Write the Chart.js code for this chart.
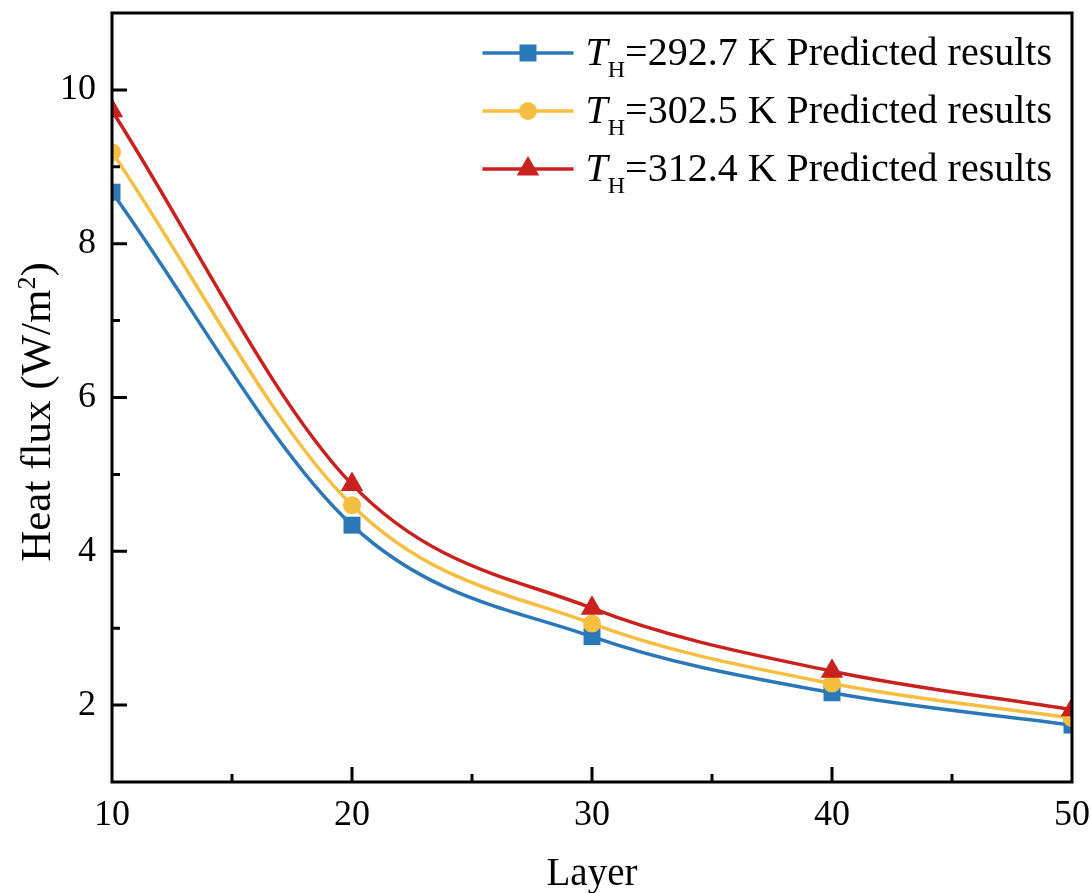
<!DOCTYPE html>
<html lang="en">
<head>
<meta charset="UTF-8">
<title>Heat flux vs layer</title>
<script src="https://cdn.jsdelivr.net/npm/chart.js"></script>
<style>
  body { margin: 0; background: #fff; }
  #wrap { width: 1091px; height: 893px; }
</style>
</head>
<body>
<div id="wrap"><canvas id="fluxChart" width="1091" height="893"></canvas></div>
<script>
// layer count on x, heat flux (W/m2) per hot-side temperature
const layers = [10, 20, 30, 40, 50];
const flux2927 = [8.67, 4.34, 2.89, 2.16, 1.74];
const flux3025 = [9.19, 4.60, 3.06, 2.28, 1.83];
const flux3124 = [9.73, 4.87, 3.26, 2.44, 1.94];
const seriesTemps = ['292.7', '302.5', '312.4'];
const xTickLabels = [10, 20, 30, 40, 50];
const yTickLabels = [2, 4, 6, 8, 10];

const serif = '"Liberation Serif", "Times New Roman", serif';
const colors = ['#2b78b8', '#f5be41', '#c9211e'];
const markers = ['rect', 'circle', 'triangle'];
const radii = [12, 9, 13];

function toPoints(ys) {
  return layers.map((x, i) => ({ x: x, y: ys[i] }));
}

function drawMarker(ctx, style, x, y, r) {
  ctx.beginPath();
  if (style === 'rect') {
    const s = r * Math.SQRT1_2;
    ctx.rect(x - s, y - s, 2 * s, 2 * s);
  } else if (style === 'circle') {
    ctx.arc(x, y, r, 0, Math.PI * 2);
  } else {
    const a = 2 * Math.PI / 3;
    ctx.moveTo(x, y - r);
    ctx.lineTo(x + r * Math.sin(a), y - r * Math.cos(a));
    ctx.lineTo(x - r * Math.sin(a), y - r * Math.cos(a));
    ctx.closePath();
  }
  ctx.fill();
}

// closed frame plus inward tick marks
const framePlugin = {
  id: 'frame',
  afterDraw(chart) {
    const { ctx, chartArea: a, scales: { x, y } } = chart;
    ctx.save();
    ctx.strokeStyle = '#000';
    ctx.lineWidth = 3;
    ctx.strokeRect(a.left, a.top, a.right - a.left, a.bottom - a.top);
    ctx.beginPath();
    x.ticks.forEach(t => {
      if (t.value <= x.min || t.value >= x.max) return;
      const px = x.getPixelForValue(t.value);
      const len = xTickLabels.includes(t.value) ? 15 : 8;
      ctx.moveTo(px, a.bottom);
      ctx.lineTo(px, a.bottom - len);
    });
    y.ticks.forEach(t => {
      if (t.value <= y.min || t.value >= y.max) return;
      const py = y.getPixelForValue(t.value);
      const len = yTickLabels.includes(t.value) ? 15 : 8;
      ctx.moveTo(a.left, py);
      ctx.lineTo(a.left + len, py);
    });
    ctx.stroke();
    ctx.restore();
  }
};

// axis titles (y title has a superscript 2)
const titlePlugin = {
  id: 'axisTitles',
  afterDraw(chart) {
    const { ctx, chartArea: a } = chart;
    ctx.save();
    ctx.fillStyle = '#000';
    ctx.textAlign = 'center';
    ctx.textBaseline = 'alphabetic';
    ctx.font = '39px ' + serif;
    ctx.fillText('Layer', (a.left + a.right) / 2, 885);

    ctx.translate(50, 412);
    ctx.rotate(-Math.PI / 2);
    const main = 'Heat flux (W/m';
    ctx.font = '43px ' + serif;
    const w1 = ctx.measureText(main).width;
    const w3 = ctx.measureText(')').width;
    ctx.font = '26px ' + serif;
    const w2 = ctx.measureText('2').width;
    const x0 = -(w1 + w2 + w3) / 2;
    ctx.textAlign = 'left';
    ctx.font = '43px ' + serif;
    ctx.fillText(main, x0, 0);
    ctx.font = '26px ' + serif;
    ctx.fillText('2', x0 + w1, -15);
    ctx.font = '43px ' + serif;
    ctx.fillText(')', x0 + w1 + w2, 0);
    ctx.restore();
  }
};

// legend in the upper right corner of the plot
const legendPlugin = {
  id: 'insetLegend',
  afterDraw(chart) {
    const { ctx, chartArea: a } = chart;
    ctx.save();
    seriesTemps.forEach((temp, i) => {
      const cy = a.top + 40 + i * 58;
      const rest = '=' + temp + ' K Predicted results';
      ctx.font = '40px ' + serif;
      const wRest = ctx.measureText(rest).width;
      ctx.font = 'italic 40px ' + serif;
      const wT = ctx.measureText('T').width;
      ctx.font = '24px ' + serif;
      const wH = ctx.measureText('H').width;
      const textX = a.right - 20 - wRest - wH - wT;
      const lineX0 = textX - 103;
      const lineX1 = textX - 12;

      ctx.strokeStyle = colors[i];
      ctx.fillStyle = colors[i];
      ctx.lineWidth = 3.5;
      ctx.beginPath();
      ctx.moveTo(lineX0, cy);
      ctx.lineTo(lineX1, cy);
      ctx.stroke();
      drawMarker(ctx, markers[i], (lineX0 + lineX1) / 2, cy, radii[i]);

      ctx.fillStyle = '#000';
      ctx.textAlign = 'left';
      ctx.textBaseline = 'alphabetic';
      const base = cy + 12;
      ctx.font = 'italic 40px ' + serif;
      ctx.fillText('T', textX, base);
      ctx.font = '24px ' + serif;
      ctx.fillText('H', textX + wT, base + 12);
      ctx.font = '40px ' + serif;
      ctx.fillText(rest, textX + wT + wH, base);
    });
    ctx.restore();
  }
};

const datasets = [flux2927, flux3025, flux3124].map((ys, i) => ({
  label: 'T_H=' + seriesTemps[i] + ' K Predicted results',
  data: toPoints(ys),
  borderColor: colors[i],
  backgroundColor: colors[i],
  borderWidth: 3.5,
  pointStyle: markers[i],
  pointRadius: radii[i],
  pointBorderWidth: 0,
  pointHoverRadius: radii[i],
  cubicInterpolationMode: 'monotone',
  order: 2 - i
}));

new Chart(document.getElementById('fluxChart'), {
  type: 'line',
  data: { datasets: datasets },
  options: {
    responsive: false,
    animation: false,
    devicePixelRatio: 1,
    layout: { padding: { left: 0, top: 8, right: 19, bottom: 0 } },
    plugins: {
      legend: { display: false },
      tooltip: { enabled: false }
    },
    scales: {
      x: {
        type: 'linear',
        min: 10,
        max: 50,
        grid: { display: false, drawTicks: false },
        border: { display: false },
        ticks: {
          stepSize: 5,
          padding: 12,
          color: '#000',
          font: { family: serif, size: 36 },
          maxRotation: 0,
          autoSkip: false,
          callback: v => (xTickLabels.includes(v) ? v : '')
        },
        afterFit: s => {
          s.height = 111;
          s.paddingLeft = 0;
          s.paddingRight = 0;
        }
      },
      y: {
        min: 1,
        max: 11,
        grid: { display: false, drawTicks: false },
        border: { display: false },
        ticks: {
          stepSize: 1,
          padding: 16,
          color: '#000',
          font: { family: serif, size: 36 },
          autoSkip: false,
          callback: v => (yTickLabels.includes(v) ? v : '')
        },
        afterFit: s => {
          s.width = 112;
          s.paddingTop = 0;
          s.paddingBottom = 0;
        }
      }
    }
  },
  plugins: [framePlugin, titlePlugin, legendPlugin]
});
</script>
</body>
</html>
